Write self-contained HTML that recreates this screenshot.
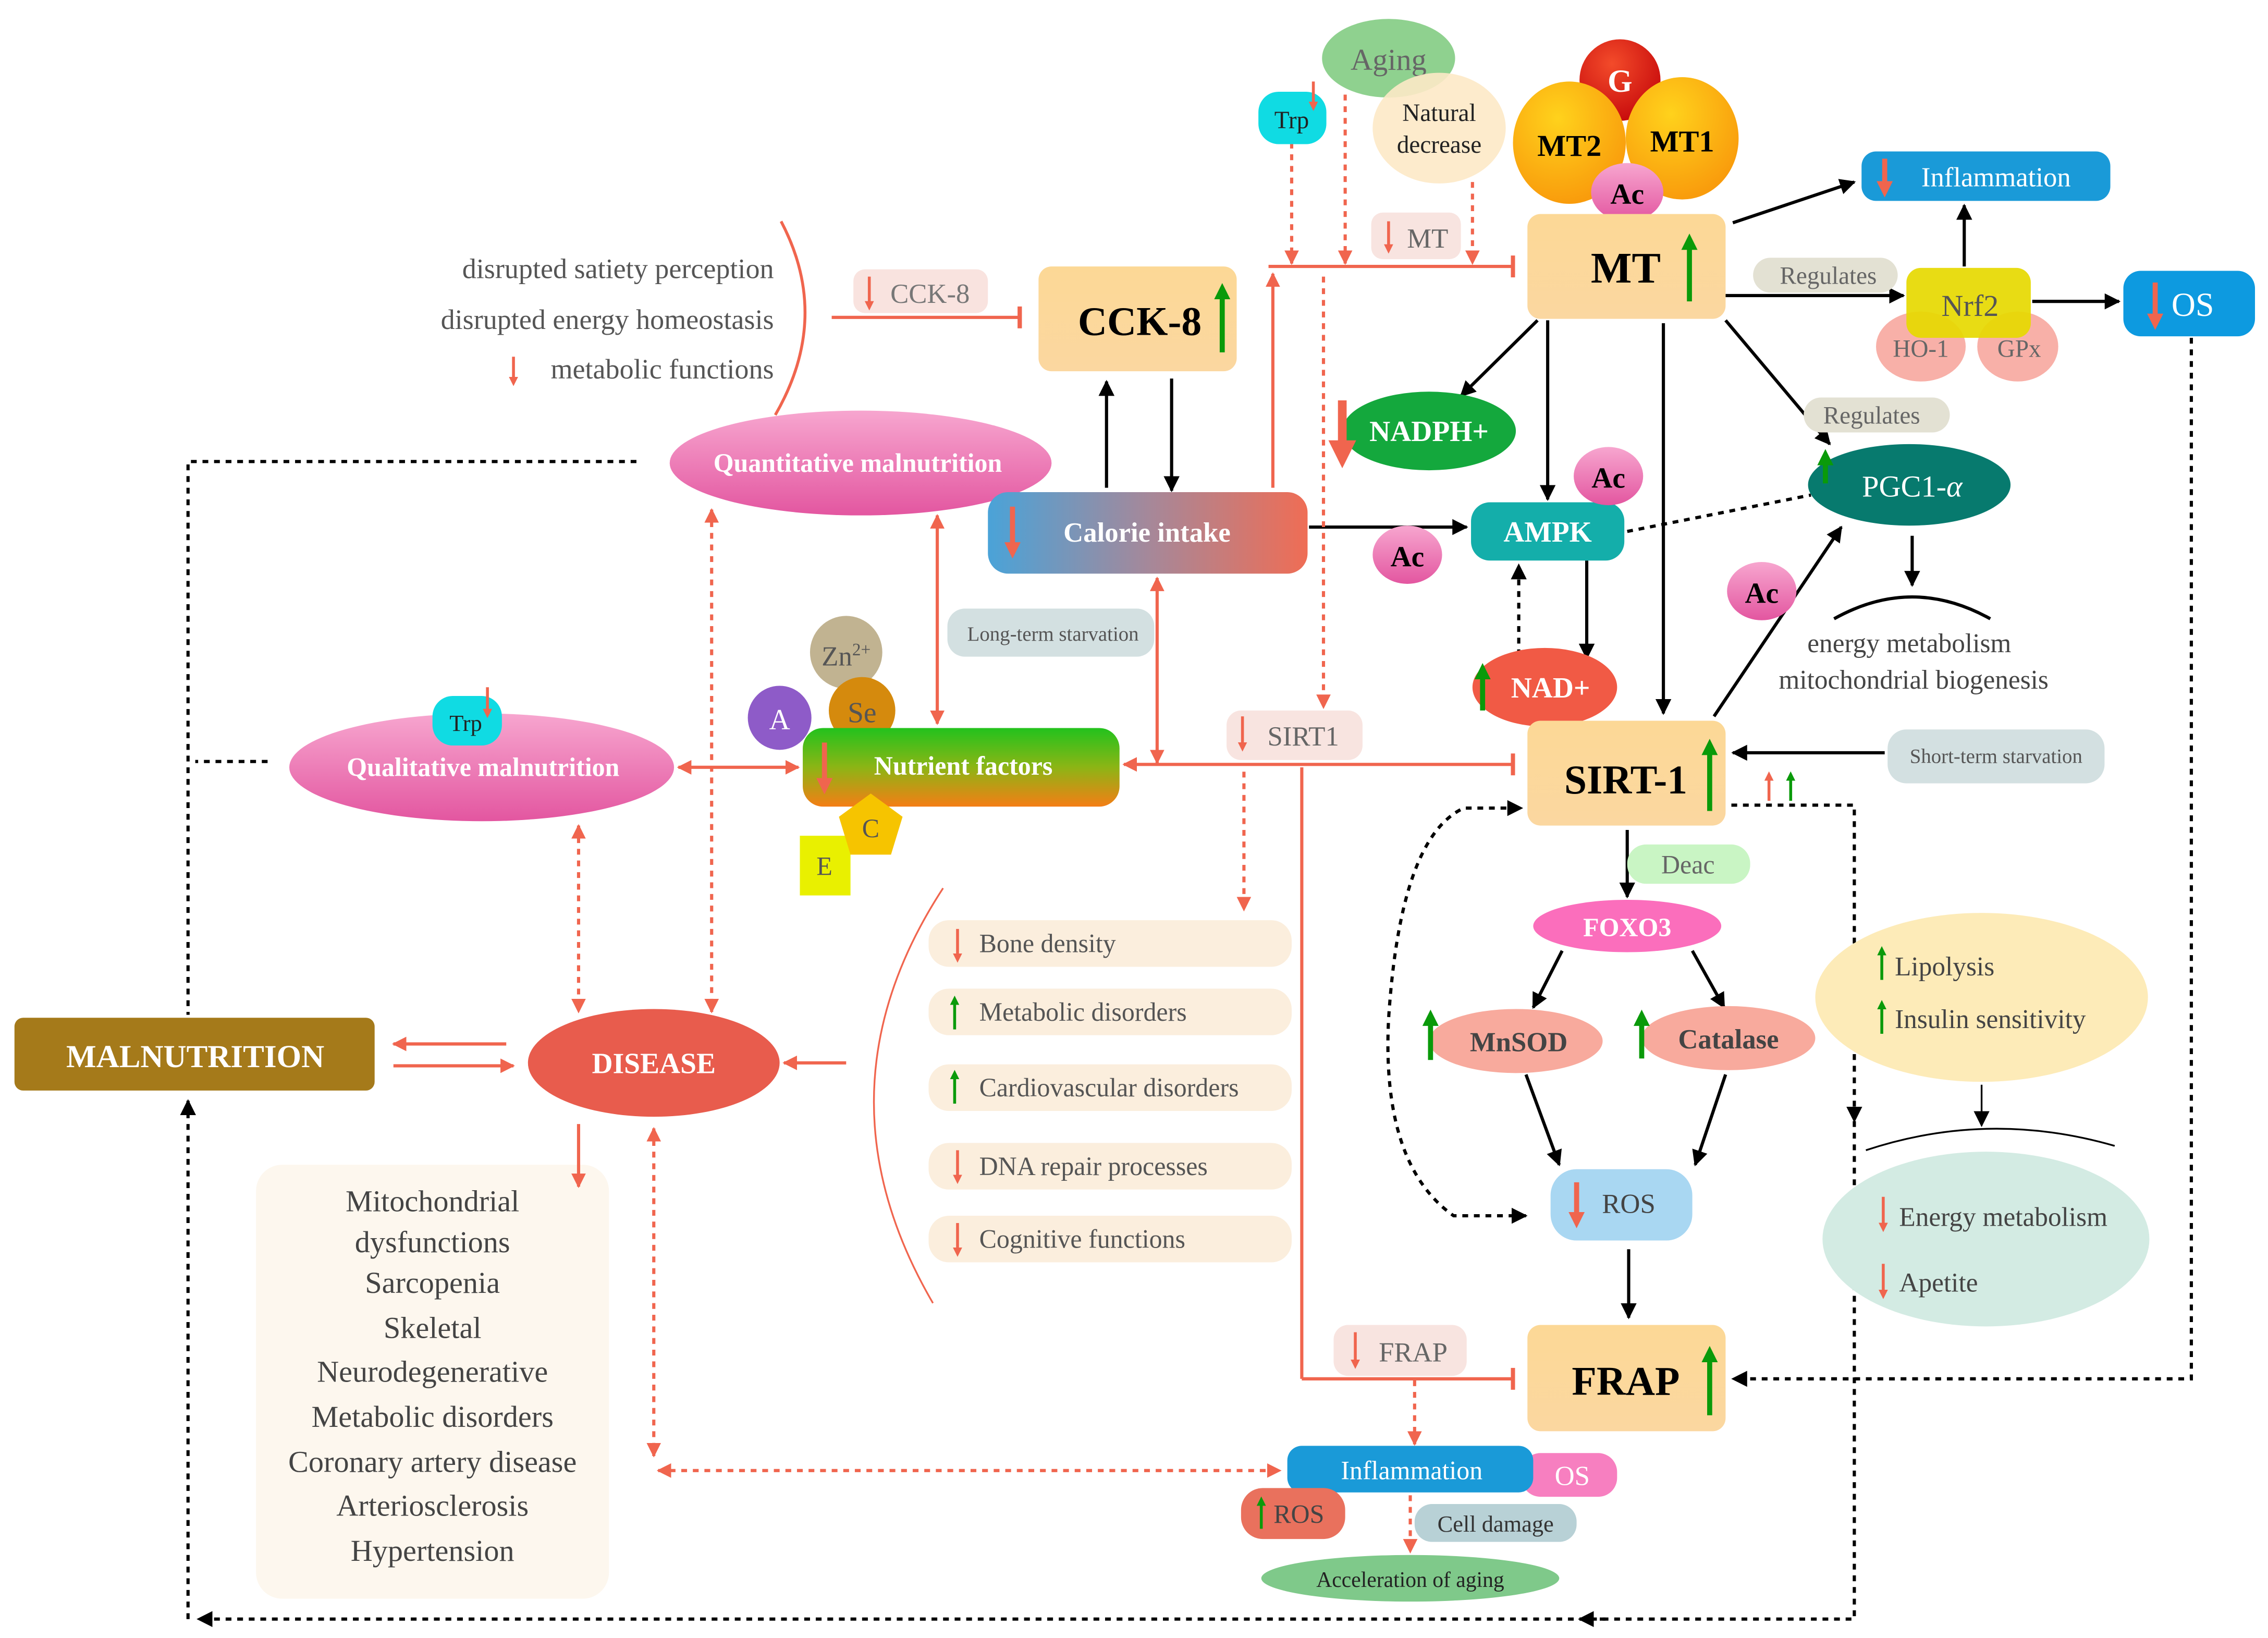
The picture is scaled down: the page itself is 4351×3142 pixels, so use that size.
<!DOCTYPE html>
<html><head><meta charset="utf-8"><style>
html,body{margin:0;padding:0;background:#fff;}
svg{display:block;}
text{font-family:"Liberation Serif",serif;}
.w{fill:#fff;font-weight:bold;}
.g{fill:#555;}
</style></head><body>
<svg width="4351" height="3142" viewBox="0 0 1568 1125" preserveAspectRatio="none" xmlns="http://www.w3.org/2000/svg">
<defs>
<marker id="ab" viewBox="0 0 10 10" refX="9" refY="5" markerWidth="11" markerHeight="11" markerUnits="userSpaceOnUse" orient="auto"><path d="M0,0L10,5L0,10z" fill="#000"/></marker>
<marker id="ao" viewBox="0 0 10 10" refX="9" refY="5" markerWidth="10" markerHeight="10" markerUnits="userSpaceOnUse" orient="auto"><path d="M0,0L10,5L0,10z" fill="#f0654e"/></marker>
<marker id="aos" viewBox="0 0 10 10" refX="1" refY="5" markerWidth="10" markerHeight="10" markerUnits="userSpaceOnUse" orient="auto"><path d="M10,0L0,5L10,10z" fill="#f0654e"/></marker>
<marker id="abs" viewBox="0 0 10 10" refX="1" refY="5" markerWidth="11" markerHeight="11" markerUnits="userSpaceOnUse" orient="auto"><path d="M10,0L0,5L10,10z" fill="#000"/></marker>
<marker id="tb" viewBox="0 0 4 20" refX="2" refY="10" markerWidth="3" markerHeight="20" markerUnits="userSpaceOnUse" orient="auto"><rect x="0" y="0" width="4" height="20" fill="#f0654e"/></marker>
<marker id="rr" viewBox="0 0 10 10" refX="5" refY="5" markerWidth="3.2" markerHeight="3.2" orient="auto"><path d="M0,0L10,5L0,10z" fill="#f0654e"/></marker>
<marker id="gg" viewBox="0 0 10 10" refX="5" refY="5" markerWidth="3.2" markerHeight="3.2" orient="auto"><path d="M0,0L10,5L0,10z" fill="#0a9a0a"/></marker>
<linearGradient id="peach" x1="0" y1="0" x2="0" y2="1"><stop offset="0" stop-color="#fcd896"/><stop offset="1" stop-color="#fbd7a0"/></linearGradient>
<linearGradient id="cal" x1="0" y1="0" x2="1" y2="0"><stop offset="0" stop-color="#4aa3d8"/><stop offset="0.5" stop-color="#a5889a"/><stop offset="1" stop-color="#ef6d55"/></linearGradient>
<linearGradient id="nut" x1="0" y1="0" x2="0" y2="1"><stop offset="0" stop-color="#22c21d"/><stop offset="0.5" stop-color="#8cb515"/><stop offset="1" stop-color="#f47e15"/></linearGradient>
<radialGradient id="org" cx="0.4" cy="0.3" r="0.7"><stop offset="0" stop-color="#ffd21c"/><stop offset="1" stop-color="#f99c0c"/></radialGradient>
<radialGradient id="red" cx="0.4" cy="0.3" r="0.7"><stop offset="0" stop-color="#f34b2a"/><stop offset="1" stop-color="#c90d0d"/></radialGradient>
<linearGradient id="pink" x1="0" y1="0" x2="0" y2="1"><stop offset="0" stop-color="#f7a6cf"/><stop offset="1" stop-color="#e356a0"/></linearGradient>
</defs>

<g fill="none" stroke-width="2.2">
<g stroke="#000">
<line x1="1198" y1="153" x2="1282" y2="125" marker-end="url(#ab)"/>
<line x1="1358" y1="183" x2="1358" y2="141" marker-end="url(#ab)"/>
<line x1="1193" y1="203" x2="1316" y2="203" marker-end="url(#ab)"/>
<line x1="1405" y1="207" x2="1465" y2="207" marker-end="url(#ab)"/>
<line x1="1063" y1="220" x2="1010" y2="272" marker-end="url(#ab)"/>
<line x1="1070" y1="220" x2="1070" y2="343" marker-end="url(#ab)"/>
<line x1="1150" y1="222" x2="1150" y2="490" marker-end="url(#ab)"/>
<line x1="1193" y1="220" x2="1265" y2="305" marker-end="url(#ab)"/>
<line x1="810" y1="260" x2="810" y2="337" marker-end="url(#ab)"/>
<line x1="765" y1="335" x2="765" y2="262" marker-end="url(#ab)"/>
<line x1="905" y1="362" x2="1014" y2="362" marker-end="url(#ab)"/>
<line x1="1097" y1="385" x2="1097" y2="452" marker-end="url(#ab)"/>
<line x1="1185" y1="492" x2="1273" y2="362" marker-end="url(#ab)"/>
<line x1="1322" y1="368" x2="1322" y2="402" marker-end="url(#ab)"/>
<path d="M1268,425 Q1322,395 1376,425"/>
<line x1="1303" y1="517" x2="1198" y2="517" marker-end="url(#ab)"/>
<line x1="1125" y1="570" x2="1125" y2="616" marker-end="url(#ab)"/>
<line x1="1080" y1="653" x2="1060" y2="692" marker-end="url(#ab)"/>
<line x1="1170" y1="653" x2="1192" y2="692" marker-end="url(#ab)"/>
<line x1="1055" y1="738" x2="1078" y2="800" marker-end="url(#ab)"/>
<line x1="1193" y1="738" x2="1172" y2="800" marker-end="url(#ab)"/>
<line x1="1126" y1="858" x2="1126" y2="905" marker-end="url(#ab)"/>
<line x1="1370" y1="745" x2="1370" y2="773" stroke-width="1.2" marker-end="url(#ab)"/>
<path d="M1290,790 Q1375,762 1462,787" stroke-width="1.2"/>
</g>
<g stroke="#000" stroke-dasharray="4,4">
<line x1="1125" y1="365" x2="1252" y2="340"/>
<line x1="1050" y1="450" x2="1050" y2="388" marker-end="url(#ab)"/>
<path d="M1055,835 L1005,835 Q955,800 960,700 Q968,575 1012,555 L1052,555" marker-end="url(#ab)" marker-start="url(#abs)"/>
<path d="M1515,232 L1515,947 L1198,947" marker-end="url(#ab)"/>
<path d="M1197,553 L1282,553 L1282,770" marker-end="url(#ab)"/>
<path d="M1282,770 L1282,1112 L137,1112" marker-end="url(#ab)"/>
<line x1="1110" y1="1112" x2="1092" y2="1112" marker-end="url(#ab)"/>
<line x1="130" y1="1112" x2="130" y2="756" marker-end="url(#ab)"/>
<path d="M440,317 L130,317 L130,697"/>
<line x1="185" y1="523" x2="135" y2="523"/>
</g>
<g stroke="#f0654e">
<line x1="575" y1="218" x2="705" y2="218" marker-end="url(#tb)"/>
<line x1="877" y1="183" x2="1046" y2="183" marker-end="url(#tb)"/>
<line x1="880" y1="335" x2="880" y2="188" marker-end="url(#ao)"/>
<line x1="777" y1="525" x2="1046" y2="525" marker-end="url(#tb)" marker-start="url(#aos)"/>
<path d="M900,527 L900,947"/>
<line x1="900" y1="947" x2="1046" y2="947" marker-end="url(#tb)"/>
<line x1="648" y1="354" x2="648" y2="497" marker-end="url(#ao)" marker-start="url(#aos)"/>
<line x1="800" y1="397" x2="800" y2="524" marker-end="url(#ao)" marker-start="url(#aos)"/>
<line x1="469" y1="527" x2="552" y2="527" marker-end="url(#ao)" marker-start="url(#aos)"/>
<line x1="350" y1="717" x2="272" y2="717" marker-end="url(#ao)"/>
<line x1="272" y1="732" x2="355" y2="732" marker-end="url(#ao)"/>
<line x1="585" y1="730" x2="542" y2="730" marker-end="url(#ao)"/>
<path d="M540,152 Q575,218 536,285" stroke-width="2"/>
<path d="M652,610 Q560,750 645,895" stroke-width="1.2"/>
</g>
<g stroke="#f0654e" stroke-dasharray="4,4">
<line x1="893" y1="98" x2="893" y2="181" marker-end="url(#ao)"/>
<line x1="930" y1="65" x2="930" y2="181" marker-end="url(#ao)"/>
<line x1="1018" y1="125" x2="1018" y2="181" marker-end="url(#ao)"/>
<line x1="915" y1="190" x2="915" y2="486" marker-end="url(#ao)"/>
<line x1="860" y1="530" x2="860" y2="625" marker-end="url(#ao)"/>
<line x1="400" y1="567" x2="400" y2="695" marker-end="url(#ao)" marker-start="url(#aos)"/>
<line x1="492" y1="350" x2="492" y2="695" marker-end="url(#ao)" marker-start="url(#aos)"/>
<line x1="452" y1="775" x2="452" y2="1000" marker-start="url(#aos)" marker-end="url(#ao)"/>
<line x1="455" y1="1010" x2="885" y2="1010" marker-start="url(#aos)" marker-end="url(#ao)"/>
<line x1="978" y1="948" x2="978" y2="992" marker-end="url(#ao)"/>
<line x1="975" y1="1027" x2="975" y2="1066" marker-end="url(#ao)"/>
</g>
</g>

<ellipse cx="960" cy="40" rx="46" ry="27" fill="#8fd18f"/>
<text x="960" y="48" font-size="21" text-anchor="middle" fill="#666" font-family="Liberation Sans,sans-serif">Aging</text>
<ellipse cx="995" cy="88" rx="46" ry="38" fill="#fde9c6" opacity="0.9"/>
<text x="995" y="83" font-size="17" text-anchor="middle" fill="#222">Natural</text>
<text x="995" y="105" font-size="17" text-anchor="middle" fill="#222">decrease</text>
<rect x="870" y="63" width="47" height="36" rx="14" fill="#10dbe3"/>
<text x="893" y="88" font-size="17" text-anchor="middle" fill="#222">Trp</text>
<circle cx="1120" cy="55" r="28" fill="url(#red)"/>
<text x="1120" y="63" font-size="22" text-anchor="middle" class="w" font-family="Liberation Sans,sans-serif">G</text>
<ellipse cx="1085" cy="98" rx="39" ry="42" fill="url(#org)"/>
<ellipse cx="1163" cy="95" rx="39" ry="42" fill="url(#org)"/>
<text x="1085" y="107" font-size="21" text-anchor="middle" font-weight="bold">MT2</text>
<text x="1163" y="104" font-size="21" text-anchor="middle" font-weight="bold">MT1</text>
<ellipse cx="1125" cy="132" rx="25" ry="20" fill="url(#pink)"/>
<text x="1125" y="140" font-size="20" text-anchor="middle" font-weight="bold">Ac</text>

<rect x="1287" y="104" width="172" height="34" rx="10" fill="#1a9ad8"/>
<text x="1380" y="128" font-size="19" text-anchor="middle" fill="#fff">Inflammation</text>
<rect x="1056" y="147" width="137" height="72" rx="9" fill="url(#peach)"/>
<text x="1124" y="194" font-size="30" text-anchor="middle" font-weight="bold">MT</text>
<rect x="1212" y="177" width="100" height="24" rx="12" fill="#e3e1d3"/>
<text x="1264" y="195" font-size="17" text-anchor="middle" fill="#666">Regulates</text>
<ellipse cx="1328" cy="238" rx="31" ry="24" fill="#f8b0a8"/>
<ellipse cx="1395" cy="238" rx="28" ry="24" fill="#f8b0a8"/>
<rect x="1318" y="184" width="86" height="48" rx="10" fill="#e6d900" opacity="0.92"/>
<text x="1362" y="217" font-size="21" text-anchor="middle" fill="#555">Nrf2</text>
<text x="1328" y="245" font-size="17" text-anchor="middle" fill="#666">HO-1</text>
<text x="1396" y="245" font-size="17" text-anchor="middle" fill="#666">GPx</text>
<rect x="1468" y="186" width="91" height="45" rx="12" fill="#0d9ae0"/>
<text x="1516" y="217" font-size="23" text-anchor="middle" fill="#fff">OS</text>

<rect x="948" y="146" width="62" height="32" rx="8" fill="#f8e4e0"/>
<text x="987" y="170" font-size="19" text-anchor="middle" fill="#666">MT</text>
<rect x="590" y="185" width="93" height="30" rx="8" fill="#f9e3df"/>
<text x="643" y="208" font-size="19" text-anchor="middle" fill="#777">CCK-8</text>
<rect x="718" y="183" width="137" height="72" rx="9" fill="url(#peach)"/>
<text x="788" y="230" font-size="28" text-anchor="middle" font-weight="bold">CCK-8</text>

<text x="535" y="191" font-size="19.5" text-anchor="end" fill="#555">disrupted satiety perception</text>
<text x="535" y="226" font-size="19.5" text-anchor="end" fill="#555">disrupted energy homeostasis</text>
<text x="535" y="260" font-size="19.5" text-anchor="end" fill="#555">metabolic functions</text>

<ellipse cx="595" cy="318" rx="132" ry="36" fill="url(#pink)"/>
<text x="593" y="324" font-size="18" text-anchor="middle" class="w">Quantitative malnutrition</text>
<rect x="683" y="338" width="221" height="56" rx="14" fill="url(#cal)"/>
<text x="793" y="372" font-size="19" text-anchor="middle" class="w">Calorie intake</text>

<ellipse cx="988" cy="296" rx="60" ry="27" fill="#14a83d"/>
<text x="988" y="303" font-size="20" text-anchor="middle" class="w">NADPH+</text>
<rect x="1017" y="345" width="106" height="40" rx="13" fill="#14aeaa"/>
<text x="1070" y="372" font-size="20" text-anchor="middle" class="w">AMPK</text>
<ellipse cx="1112" cy="327" rx="24" ry="20" fill="url(#pink)"/>
<text x="1112" y="335" font-size="20" text-anchor="middle" font-weight="bold">Ac</text>
<ellipse cx="973" cy="381" rx="24" ry="20" fill="url(#pink)"/>
<text x="973" y="389" font-size="20" text-anchor="middle" font-weight="bold">Ac</text>
<ellipse cx="1218" cy="406" rx="24" ry="20" fill="url(#pink)"/>
<text x="1218" y="414" font-size="20" text-anchor="middle" font-weight="bold">Ac</text>
<rect x="1247" y="273" width="101" height="24" rx="12" fill="#e3e1d3"/>
<text x="1294" y="291" font-size="17" text-anchor="middle" fill="#666">Regulates</text>
<ellipse cx="1320" cy="333" rx="70" ry="28" fill="#077a6e"/>
<text x="1322" y="341" font-size="21" text-anchor="middle" fill="#fff">PGC1-<tspan font-style="italic">α</tspan></text>
<text x="1320" y="448" font-size="18.5" text-anchor="middle" fill="#444">energy metabolism</text>
<text x="1323" y="473" font-size="18.5" text-anchor="middle" fill="#444">mitochondrial biogenesis</text>

<rect x="655" y="418" width="143" height="33" rx="12" fill="#d3e0e1"/>
<text x="728" y="440" font-size="14" text-anchor="middle" fill="#555">Long-term starvation</text>
<circle cx="585" cy="448" r="25" fill="#c1b391"/>
<text x="585" y="457" font-size="19" text-anchor="middle" fill="#555">Zn<tspan font-size="12" dy="-7">2+</tspan></text>
<circle cx="539" cy="493" r="22" fill="#8e5bc8"/>
<text x="539" y="501" font-size="20" text-anchor="middle" fill="#fff">A</text>
<circle cx="596" cy="488" r="23" fill="#d58a0d"/>
<text x="596" y="496" font-size="20" text-anchor="middle" fill="#555">Se</text>

<ellipse cx="333" cy="527" rx="133" ry="37" fill="url(#pink)"/>
<text x="334" y="533" font-size="18" text-anchor="middle" class="w">Qualitative malnutrition</text>
<rect x="299" y="478" width="48" height="34" rx="14" fill="#10dbe3"/>
<text x="322" y="502" font-size="16" text-anchor="middle" fill="#222">Trp</text>

<rect x="555" y="500" width="219" height="54" rx="14" fill="url(#nut)"/>
<text x="666" y="532" font-size="18" text-anchor="middle" class="w">Nutrient factors</text>
<rect x="553" y="574" width="35" height="41" fill="#e9f000"/>
<text x="570" y="601" font-size="18" text-anchor="middle" fill="#555">E</text>
<polygon points="602,545 624,561 616,587 588,587 580,561" fill="#f6c400"/>
<text x="602" y="575" font-size="18" text-anchor="middle" fill="#555">C</text>

<rect x="848" y="488" width="94" height="34" rx="10" fill="#f8e4e0"/>
<text x="901" y="512" font-size="19" text-anchor="middle" fill="#666">SIRT1</text>
<ellipse cx="1068" cy="472" rx="50" ry="27" fill="#f15a45"/>
<text x="1072" y="479" font-size="20" text-anchor="middle" class="w">NAD+</text>
<rect x="1056" y="495" width="137" height="72" rx="9" fill="url(#peach)"/>
<text x="1124" y="545" font-size="28" text-anchor="middle" font-weight="bold">SIRT-1</text>
<rect x="1305" y="501" width="150" height="37" rx="13" fill="#d3e0e1"/>
<text x="1380" y="524" font-size="14" text-anchor="middle" fill="#555">Short-term starvation</text>
<rect x="1125" y="580" width="85" height="27" rx="13" fill="#c9f5c4"/>
<text x="1167" y="600" font-size="18" text-anchor="middle" fill="#666">Deac</text>
<ellipse cx="1125" cy="636" rx="65" ry="18" fill="#fb6ebc"/>
<text x="1125" y="643" font-size="18" text-anchor="middle" fill="#fff" font-weight="bold" font-family="Liberation Sans,sans-serif">FOXO3</text>
<ellipse cx="1048" cy="715" rx="60" ry="22" fill="#f8aa9d"/>
<text x="1050" y="722" font-size="19" text-anchor="middle" fill="#444" font-weight="bold">MnSOD</text>
<ellipse cx="1195" cy="713" rx="60" ry="22" fill="#f8aa9d"/>
<text x="1195" y="720" font-size="19" text-anchor="middle" fill="#444" font-weight="bold">Catalase</text>
<rect x="1072" y="803" width="98" height="49" rx="18" fill="#a9d7f2"/>
<text x="1126" y="833" font-size="19" text-anchor="middle" fill="#444">ROS</text>

<ellipse cx="1370" cy="685" rx="115" ry="58" fill="#fdebb8"/>
<text x="1310" y="670" font-size="18.5" fill="#444">Lipolysis</text>
<text x="1310" y="706" font-size="18.5" fill="#444">Insulin sensitivity</text>
<ellipse cx="1373" cy="851" rx="113" ry="60" fill="#d3ebe3"/>
<text x="1313" y="842" font-size="18.5" fill="#444">Energy metabolism</text>
<text x="1313" y="887" font-size="18.5" fill="#444">Apetite</text>

<rect x="10" y="699" width="249" height="50" rx="6" fill="#a57a1a"/>
<text x="135" y="733" font-size="22" text-anchor="middle" class="w">MALNUTRITION</text>
<ellipse cx="452" cy="730" rx="87" ry="37" fill="#e85c4d"/>
<text x="452" y="737" font-size="20" text-anchor="middle" class="w">DISEASE</text>
<rect x="177" y="800" width="244" height="298" rx="18" fill="#fdf7ee"/>
<line x1="400" y1="772" x2="400" y2="815" stroke="#f0654e" stroke-width="2.2" marker-end="url(#ao)"/>
<g font-size="21" text-anchor="middle" fill="#444">
<text x="299" y="832">Mitochondrial</text>
<text x="299" y="860">dysfunctions</text>
<text x="299" y="888">Sarcopenia</text>
<text x="299" y="919">Skeletal</text>
<text x="299" y="949">Neurodegenerative</text>
<text x="299" y="980">Metabolic disorders</text>
<text x="299" y="1011">Coronary artery disease</text>
<text x="299" y="1041">Arteriosclerosis</text>
<text x="299" y="1072">Hypertension</text>
</g>
<g fill="#fbeedd">
<rect x="642" y="632" width="251" height="32" rx="14"/>
<rect x="642" y="679" width="251" height="32" rx="14"/>
<rect x="642" y="731" width="251" height="32" rx="14"/>
<rect x="642" y="785" width="251" height="32" rx="14"/>
<rect x="642" y="835" width="251" height="32" rx="14"/>
</g>
<g font-size="18" fill="#555">
<text x="677" y="654">Bone density</text>
<text x="677" y="701">Metabolic disorders</text>
<text x="677" y="753">Cardiovascular disorders</text>
<text x="677" y="807">DNA repair processes</text>
<text x="677" y="857">Cognitive functions</text>
</g>

<rect x="922" y="910" width="92" height="35" rx="10" fill="#f8e4e0"/>
<text x="977" y="935" font-size="19" text-anchor="middle" fill="#666">FRAP</text>
<rect x="1056" y="910" width="137" height="73" rx="9" fill="url(#peach)"/>
<text x="1124" y="958" font-size="28" text-anchor="middle" font-weight="bold">FRAP</text>
<rect x="1052" y="998" width="66" height="30" rx="13" fill="#f77fc0"/>
<text x="1087" y="1020" font-size="19" text-anchor="middle" fill="#fff">OS</text>
<rect x="890" y="993" width="170" height="32" rx="10" fill="#1a9ad8"/>
<text x="976" y="1016" font-size="18" text-anchor="middle" fill="#fff">Inflammation</text>
<rect x="858" y="1022" width="72" height="35" rx="15" fill="#e9715d"/>
<text x="898" y="1046" font-size="18" text-anchor="middle" fill="#444">ROS</text>
<rect x="978" y="1033" width="112" height="26" rx="12" fill="#b8d1d6"/>
<text x="1034" y="1052" font-size="16" text-anchor="middle" fill="#333">Cell damage</text>
<ellipse cx="975" cy="1084" rx="103" ry="16" fill="#7fc98a"/>
<text x="975" y="1090" font-size="15" text-anchor="middle" fill="#222">Acceleration of aging</text>

<g stroke-width="3.5" fill="none">
<g stroke="#0a9a0a" marker-end="url(#gg)">
<line x1="1168" y1="207" x2="1168" y2="166"/>
<line x1="845" y1="242" x2="845" y2="200"/>
<line x1="1182" y1="557" x2="1182" y2="513"/>
<line x1="1182" y1="972" x2="1182" y2="930"/>
<line x1="1025" y1="488" x2="1025" y2="461"/>
<line x1="989" y1="728" x2="989" y2="699"/>
<line x1="1135" y1="727" x2="1135" y2="699"/>
<line x1="1262" y1="332" x2="1262" y2="314"/>
</g>
<g stroke="#0a9a0a" stroke-width="2" marker-end="url(#gg)">
<line x1="1301" y1="673" x2="1301" y2="653"/>
<line x1="1301" y1="710" x2="1301" y2="690"/>
<line x1="660" y1="707" x2="660" y2="687"/>
<line x1="660" y1="758" x2="660" y2="738"/>
<line x1="872" y1="1050" x2="872" y2="1031"/>
<line x1="1238" y1="550" x2="1238" y2="533"/>
</g>
<g stroke="#f0654e" stroke-width="2" marker-end="url(#rr)">
<line x1="1223" y1="550" x2="1223" y2="533"/>
<line x1="601" y1="190" x2="601" y2="210"/>
<line x1="960" y1="152" x2="960" y2="171"/>
<line x1="355" y1="245" x2="355" y2="262"/>
<line x1="859" y1="492" x2="859" y2="513"/>
<line x1="937" y1="915" x2="937" y2="937"/>
<line x1="1302" y1="822" x2="1302" y2="843"/>
<line x1="1302" y1="868" x2="1302" y2="889"/>
<line x1="662" y1="638" x2="662" y2="658"/>
<line x1="662" y1="790" x2="662" y2="810"/>
<line x1="662" y1="840" x2="662" y2="860"/>
<line x1="908" y1="56" x2="908" y2="73"/>
<line x1="337" y1="472" x2="337" y2="490"/>
</g>
<g stroke="#f0654e" marker-end="url(#rr)">
<line x1="1303" y1="109" x2="1303" y2="130"/>
<line x1="1490" y1="194" x2="1490" y2="221"/>
<line x1="1090" y1="812" x2="1090" y2="838"/>
<line x1="700" y1="348" x2="700" y2="378"/>
<line x1="570" y1="510" x2="570" y2="540"/>
</g>
<line x1="928" y1="275" x2="928" y2="312" stroke="#f0654e" stroke-width="6" marker-end="url(#rr)"/>
</g>
</svg>
</body></html>
